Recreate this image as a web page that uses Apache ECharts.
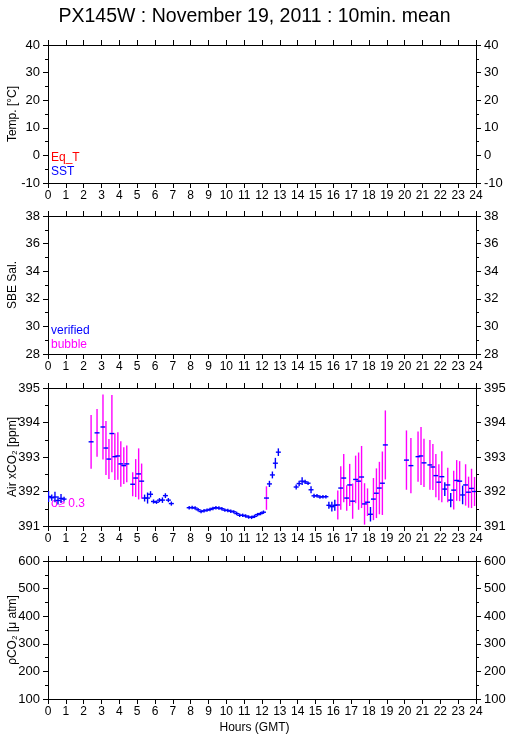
<!DOCTYPE html>
<html>
<head>
<meta charset="utf-8">
<title>PX145W : November 19, 2011</title>
<script src="https://cdn.jsdelivr.net/npm/echarts@6/dist/echarts.min.js"></script>
<style>
  html, body { margin: 0; padding: 0; background: #fff; }
  #chart { width: 509px; height: 739px; }
</style>
</head>
<body>
<div id="chart"></div>
<script>
// 10 min means of air xCO2 (hour GMT, ppm, std dev)
const hours = [
  0.03, 0.21, 0.39, 0.56, 0.73, 0.90,
  2.417, 2.75, 3.083, 3.25, 3.417, 3.583, 3.75, 3.917, 4.083, 4.25, 4.417,
  4.75, 4.917, 5.083, 5.25, 5.417, 5.583, 5.75, 5.917, 6.083, 6.25, 6.417, 6.583, 6.75, 6.917,
  7.917, 8.083, 8.25, 8.417, 8.583, 8.75, 8.917, 9.083, 9.25, 9.417, 9.583, 9.75, 9.917,
  10.083, 10.25, 10.417, 10.583, 10.75, 10.917, 11.083, 11.25, 11.417, 11.583, 11.75, 11.917,
  12.083, 12.25, 12.417, 12.583, 12.75, 12.917,
  13.917, 14.083, 14.25, 14.417, 14.583, 14.75, 14.917, 15.083, 15.25, 15.417, 15.583, 15.75, 15.917, 16.083,
  16.25, 16.417, 16.583, 16.75, 16.917, 17.083, 17.25, 17.417, 17.583, 17.75, 17.917,
  18.083, 18.25, 18.417, 18.583, 18.75, 18.917,
  20.1, 20.35, 20.75, 20.917, 21.083, 21.417, 21.583, 21.75, 21.917, 22.083, 22.25, 22.417,
  22.583, 22.75, 22.917, 23.083, 23.25, 23.417, 23.583, 23.75, 23.917
]
const xco2Mean = [
  391.855, 391.82, 391.84, 391.74, 391.80, 391.78,
  393.44, 393.70, 393.87, 393.26, 392.94, 393.68, 393.01, 393.03, 392.80, 392.75, 392.80,
  392.21, 392.39, 392.51, 392.30, 391.81, 391.81, 391.92, 391.71, 391.69, 391.75, 391.75, 391.88, 391.75, 391.65,
  391.53, 391.535, 391.52, 391.47, 391.42, 391.44, 391.46, 391.48, 391.51, 391.53, 391.52, 391.50, 391.46,
  391.45, 391.43, 391.41, 391.36, 391.31, 391.31, 391.29, 391.26, 391.25, 391.28, 391.33, 391.36,
  391.40, 391.81, 392.22, 392.48, 392.82, 393.14,
  392.13, 392.23, 392.30, 392.28, 392.24, 392.05, 391.875, 391.875, 391.84, 391.85, 391.85, 391.60, 391.56, 391.60,
  391.61, 392.10, 392.39, 391.81, 392.19, 391.72, 392.35, 392.30, 392.42, 391.64, 391.69,
  391.34, 391.78, 391.95, 392.10, 392.24, 393.35,
  392.91, 392.75, 393.01, 393.03, 392.83, 392.77, 392.71, 392.46, 392.27, 392.43, 392.07, 392.19,
  391.75, 392.04, 392.32, 392.30, 391.90, 392.19, 391.98, 392.09, 392.00
]
const xco2Sd = [
  0.16, 0.09, 0.15, 0.12, 0.13, 0.07,
  0.78, 0.69, 0.94, 0.78, 0.58, 1.12, 0.68, 0.69, 0.66, 0.53, 0.53,
  0.35, 0.55, 0.74, 0.51, 0.10, 0.16, 0.09, 0.06, 0.05, 0.06, 0.08, 0.07, 0.06, 0.06,
  0.05, 0.05, 0.05, 0.05, 0.05, 0.05, 0.05, 0.05, 0.05, 0.05, 0.05, 0.05, 0.05,
  0.05, 0.05, 0.05, 0.05, 0.05, 0.05, 0.05, 0.05, 0.05, 0.05, 0.05, 0.05,
  0.05, 0.34, 0.09, 0.10, 0.155, 0.11,
  0.07, 0.08, 0.11, 0.06, 0.05, 0.10, 0.06, 0.05, 0.05, 0.05, 0.05, 0.10, 0.14, 0.16,
  0.42, 0.63, 0.70, 0.37, 0.61, 0.51, 0.69, 0.83, 0.90, 0.60, 0.40,
  0.21, 0.61, 0.72, 0.76, 0.92, 1.00,
  0.86, 0.80, 0.73, 0.84, 0.70, 0.72, 0.67, 0.63, 0.52, 0.74, 0.20, 0.50,
  0.21, 0.56, 0.59, 0.58, 0.27, 0.60, 0.45, 0.57, 0.42
]

const panelNames = ['Temp. [°C]', 'SBE Sal.', 'Air xCO₂ [ppm]', 'ρCO₂ [μ atm]']
const panelMin = [-10, 28, 391, 100]
const panelMax = [40, 38, 395, 600]
const panelStep = [10, 2, 1, 100]
const sigmaLimit = 0.3

const FONT = 'Liberation Sans, Arial, sans-serif'
const panelTops = [45, 216, 388, 561]

const grids = []
const xAxes = []
const yAxes = []

panelTops.forEach((top, i) => {
  grids.push({ left: 48, width: 428, top, height: 138, outerBoundsMode: 'none', containLabel: false })

  const xBase = {
    gridIndex: i,
    type: 'value',
    min: 0,
    max: 24,
    interval: 1,
    axisLine: { onZero: false, lineStyle: { color: '#000', width: 1 } },
    axisTick: { inside: false, length: 5, lineStyle: { color: '#000' } },
    splitLine: { show: false },
  }
  xAxes.push({
    ...xBase,
    position: 'bottom',
    axisLabel: { color: '#000', fontSize: 12, fontFamily: FONT, margin: 7 },
  })
  xAxes.push({ ...xBase, position: 'top', axisLabel: { show: false } })

  const yBase = {
    gridIndex: i,
    type: 'value',
    min: panelMin[i],
    max: panelMax[i],
    interval: panelStep[i],
    axisLine: { show: true, onZero: false, lineStyle: { color: '#000', width: 1 } },
    axisTick: { show: true, length: 5, lineStyle: { color: '#000' } },
    minorTick: { show: true, splitNumber: 2, length: 3, lineStyle: { color: '#000' } },
    splitLine: { show: false },
  }
  yAxes.push({
    ...yBase,
    position: 'left',
    name: panelNames[i],
    nameLocation: 'middle',
    nameRotate: 90,
    nameGap: 29,
    nameMoveOverlap: false,
    nameTextStyle: { color: '#000', fontSize: 12, fontFamily: FONT },
    axisLabel: { color: '#000', fontSize: 13, fontFamily: FONT, margin: 8 },
  })
  yAxes.push({
    ...yBase,
    position: 'right',
    axisLabel: { color: '#000', fontSize: 13, fontFamily: FONT, margin: 8 },
  })
})

const xco2Data = hours.map((h, i) => [h, xco2Mean[i], xco2Sd[i]])

function renderErrorBar(params, api) {
  const h = api.value(0)
  const mean = api.value(1)
  const sd = api.value(2)
  const mid = api.coord([h, mean])
  const hi = api.coord([h, mean + sd])
  const lo = api.coord([h, mean - sd])
  const barColor = sd >= sigmaLimit ? '#ff00ff' : '#0000ff'
  return {
    type: 'group',
    children: [
      {
        type: 'line',
        shape: { x1: mid[0], y1: hi[1], x2: mid[0], y2: lo[1] },
        style: { stroke: barColor, lineWidth: 1.4 },
      },
      {
        type: 'line',
        shape: { x1: mid[0] - 2.5, y1: mid[1], x2: mid[0] + 2.5, y2: mid[1] },
        style: { stroke: '#0000ff', lineWidth: 1.4 },
      },
    ],
  }
}

const chart = echarts.init(document.getElementById('chart'), null, { renderer: 'canvas' })

chart.setOption({
  animation: false,
  backgroundColor: '#fff',
  textStyle: { fontFamily: FONT },
  title: {
    text: 'PX145W : November 19, 2011 : 10min. mean',
    left: 'center',
    top: 2,
    textStyle: { color: '#000', fontSize: 19.5, fontWeight: 'normal', fontFamily: FONT },
  },
  grid: grids,
  xAxis: xAxes,
  yAxis: yAxes,
  graphic: [
    { type: 'text', left: 51, top: 152, style: { text: 'Eq_T', fill: '#ff0000', font: '12px ' + FONT } },
    { type: 'text', left: 51, top: 166, style: { text: 'SST', fill: '#0000ff', font: '12px ' + FONT } },
    { type: 'text', left: 51, top: 325, style: { text: 'verified', fill: '#0000ff', font: '12px ' + FONT } },
    { type: 'text', left: 51, top: 339, style: { text: 'bubble', fill: '#ff00ff', font: '12px ' + FONT } },
    { type: 'text', left: 51, top: 498, style: { text: 'σ≥ 0.3', fill: '#ff00ff', font: '12px ' + FONT } },
    { type: 'text', left: 'center', top: 722, style: { text: 'Hours (GMT)', fill: '#000', font: '12px ' + FONT } },
  ],
  series: [
    {
      name: 'Air xCO2',
      type: 'custom',
      xAxisIndex: 4,
      yAxisIndex: 4,
      clip: true,
      renderItem: renderErrorBar,
      data: xco2Data,
    },
  ],
})
</script>
</body>
</html>
